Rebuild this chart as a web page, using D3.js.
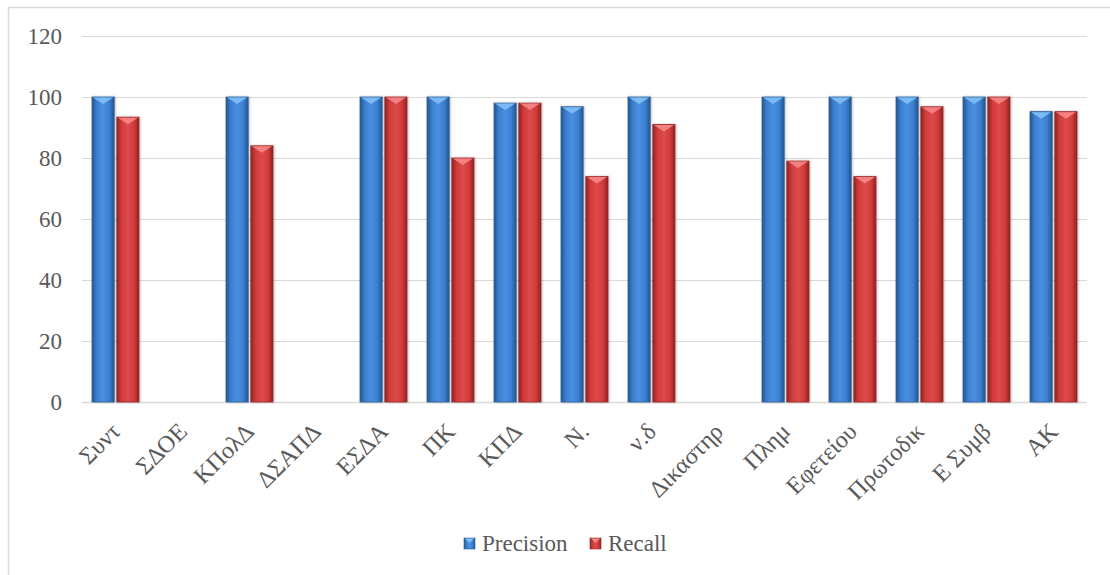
<!DOCTYPE html>
<html>
<head>
<meta charset="utf-8">
<script src="https://cdn.jsdelivr.net/npm/d3@7"></script>
<style>
  html, body { margin: 0; padding: 0; background: #fff; }
  svg { display: block; }
</style>
</head>
<body>
<svg id="chart" width="1110" height="575"></svg>
<script>
// Categories and scores (%)
const categories = ["Συντ", "ΣΔΟΕ", "ΚΠολΔ", "ΔΣΑΠΔ", "ΕΣΔΑ", "ΠΚ", "ΚΠΔ", "Ν.", "ν.δ", "Δικαστηρ", "Πλημ", "Εφετείου", "Πρωτοδικ", "Ε Συμβ", "ΑΚ"];
const precision = [100, 0, 100, 0, 100, 100, 98, 96.8, 100, 0, 100, 100, 100, 100, 95.2];
const recall    = [93.4, 0, 84, 0, 100, 80, 98, 73.9, 91, 0, 79, 73.9, 96.8, 100, 95.2];
const yTicks = [0, 20, 40, 60, 80, 100, 120];
const seriesNames = ["Precision", "Recall"];

const svg = d3.select("#chart");
const W = 1110, H = 575;
const margin = { left: 82, right: 23, top: 36, bottom: 173 };
const textColor = "#595959";
const serif = "Liberation Serif";

// outer frame
svg.append("rect")
  .attr("x", 8.5).attr("y", 7.5)
  .attr("width", W + 10).attr("height", H + 10)
  .attr("fill", "none").attr("stroke", "#d9d9d9").attr("stroke-width", 1.5);

const x = d3.scaleBand().domain(categories).range([margin.left, W - margin.right]);
const y = d3.scaleLinear().domain([0, 120]).range([H - margin.bottom, margin.top]);

const barW = 21, barGap = 5;
const xs = d3.scaleBand().domain(seriesNames)
  .range([x.bandwidth() / 2 - barW - barGap / 2, x.bandwidth() / 2 + barW + barGap / 2])
  .paddingInner(barGap / (2 * barW + barGap));

// gradients for the bevelled bar look
const defs = svg.append("defs");
const palette = {
  Precision: { edge: "#24558f", mid: "#3b7fd0", light: "#4a8fe0", tip: "#7fc0f5", border: "#2d5f98" },
  Recall:    { edge: "#8e2222", mid: "#d13b3b", light: "#de4a4a", tip: "#f58787", border: "#9a2c2c" }
};
seriesNames.forEach(s => {
  const p = palette[s];
  const g = defs.append("linearGradient").attr("id", "grad-" + s).attr("x1", "0").attr("x2", "1").attr("y1", "0").attr("y2", "0");
  g.append("stop").attr("offset", "0").attr("stop-color", p.edge);
  g.append("stop").attr("offset", "0.22").attr("stop-color", p.mid);
  g.append("stop").attr("offset", "0.5").attr("stop-color", p.light);
  g.append("stop").attr("offset", "0.78").attr("stop-color", p.mid);
  g.append("stop").attr("offset", "1").attr("stop-color", p.edge);
});
const shadow = defs.append("filter").attr("id", "shadow").attr("x", "-30%").attr("y", "-10%").attr("width", "160%").attr("height", "120%");
shadow.append("feDropShadow").attr("dx", 1).attr("dy", 0).attr("stdDeviation", 1.2).attr("flood-color", "#000").attr("flood-opacity", 0.25);

// gridlines
svg.append("g").selectAll("line").data(yTicks).join("line")
  .attr("x1", margin.left).attr("x2", W - margin.right)
  .attr("y1", d => y(d) + 0.5).attr("y2", d => y(d) + 0.5)
  .attr("stroke", "#d9d9d9").attr("stroke-width", d => d === 0 ? 1.5 : 1.2);

// y tick labels
svg.append("g").selectAll("text").data(yTicks).join("text")
  .attr("x", 62).attr("y", d => y(d) + 8)
  .attr("text-anchor", "end")
  .attr("font-family", serif)
  .attr("font-size", 23).attr("fill", textColor)
  .text(d => d);

// bars
const rows = [];
categories.forEach((c, i) => {
  rows.push({ cat: c, series: "Precision", value: precision[i] });
  rows.push({ cat: c, series: "Recall", value: recall[i] });
});
const bars = svg.append("g").selectAll("g.bar").data(rows.filter(d => d.value > 0)).join("g").attr("class", "bar")
  .attr("filter", "url(#shadow)");
bars.append("rect")
  .attr("x", d => x(d.cat) + xs(d.series))
  .attr("y", d => y(d.value))
  .attr("width", xs.bandwidth())
  .attr("height", d => y(0) - y(d.value))
  .attr("fill", d => `url(#grad-${d.series})`)
  .attr("stroke", d => palette[d.series].border).attr("stroke-width", 0.8);
// lighter bevel triangle at the top of each bar
bars.append("path")
  .attr("d", d => {
    const x0 = x(d.cat) + xs(d.series), w = xs.bandwidth(), y0 = y(d.value);
    return `M${x0 + 1},${y0 + 0.5} L${x0 + w - 1},${y0 + 0.5} L${x0 + w / 2},${y0 + 7} Z`;
  })
  .attr("fill", d => palette[d.series].tip).attr("opacity", 0.9);

// category labels, rotated 45 degrees
svg.append("g").selectAll("text").data(categories).join("text")
  .attr("transform", d => `translate(${x(d) + x.bandwidth() / 2 + 6},${y(0) + 31}) rotate(-45)`)
  .attr("text-anchor", "end")
  .attr("font-family", serif)
  .attr("font-size", 24).attr("fill", textColor)
  .text(d => d);

// legend
const legend = svg.append("g").attr("transform", "translate(464,543)");
const legendItems = [{ name: "Precision", x: 0 }, { name: "Recall", x: 126 }];
legendItems.forEach(it => {
  const g = legend.append("g").attr("transform", `translate(${it.x},0)`);
  g.append("rect").attr("x", 0).attr("y", -5).attr("width", 11).attr("height", 11)
    .attr("fill", `url(#grad-${it.name})`).attr("stroke", palette[it.name].border).attr("stroke-width", 0.6);
  g.append("path").attr("d", "M1,-4.5 L10,-4.5 L5.5,0 Z").attr("fill", palette[it.name].tip);
  g.append("text").attr("x", 18).attr("y", 8)
    .attr("font-family", serif)
    .attr("font-size", 23).attr("fill", textColor)
    .text(it.name);
});
</script>
</body>
</html>
